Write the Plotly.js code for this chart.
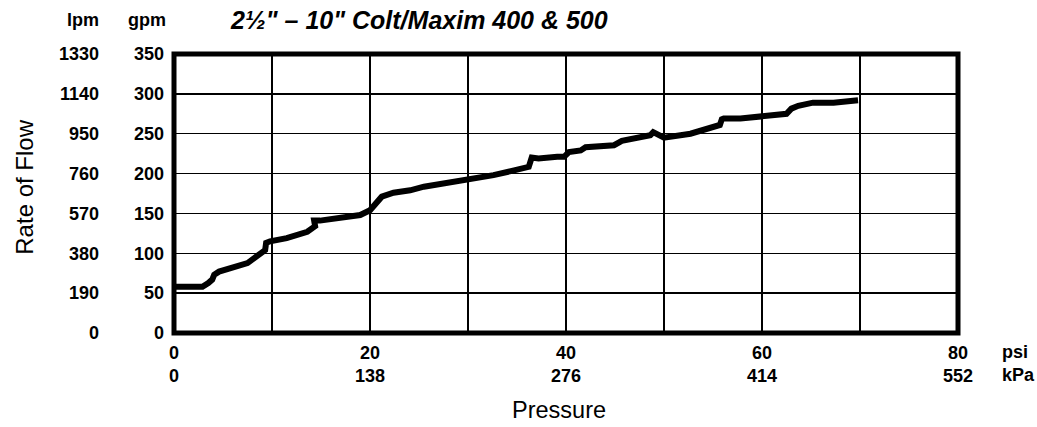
<!DOCTYPE html>
<html>
<head>
<meta charset="utf-8">
<script src="https://cdn.plot.ly/plotly-3.0.1.min.js"></script>
<style>
html,body{margin:0;padding:0;background:#fff;}
#chart{width:1037px;height:427px;}
</style>
</head>
<body>
<div id="chart"></div>
<script>
// Flow curve (pressure in psi, flow in gpm)
const pressurePsi = [0, 0.3, 2.9, 3.5, 3.9, 4.1, 4.6, 7.5, 8.6, 9.3, 9.4, 9.8, 11.5, 13.6, 14.4, 14.3, 14.9, 17.3, 19.0, 20.0, 20.7, 21.2, 22.4, 24.1, 25.5, 27.9, 29.9, 32.6, 34.7, 36.2, 36.5, 37.2, 39.1, 39.8, 40.3, 41.5, 42.0, 44.9, 45.7, 48.6, 48.9, 49.4, 50.0, 52.7, 55.0, 55.7, 55.9, 56.1, 57.8, 59.8, 62.5, 63.0, 63.7, 65.2, 67.3, 69.8];
const flowGpm     = [58, 58, 58, 62.7, 67, 73, 77, 87.7, 97, 104, 113, 115, 119, 127, 134, 141, 141, 145, 148, 154, 163, 171, 176, 179, 183.5, 188, 192, 198, 204, 208.5, 220, 219, 221, 221, 227, 229, 233, 235.6, 241, 248, 252, 248, 245, 250, 258, 261, 268, 269, 269, 271, 275, 281.5, 285, 289, 289, 292];

// Tick labels
const psiTicks = [0, 20, 40, 60, 80];
const kpaTicks = [0, 138, 276, 414, 552];
const gpmTicks = [0, 50, 100, 150, 200, 250, 300, 350];
const lpmTicks = [0, 190, 380, 570, 760, 950, 1140, 1330];

const titleText = "2½\" – 10\" Colt/Maxim 400 & 500";

const boldFont = "'Liberation Sans', Arial, Helvetica, sans-serif";
const plainFont = "'Liberation Sans', Arial, Helvetica, sans-serif";

const xTickText = psiTicks.map((p, i) => '<b>' + p + '</b><br><b>' + kpaTicks[i] + '</b>');

const trace = {
  x: pressurePsi,
  y: flowGpm,
  type: 'scatter',
  mode: 'lines',
  line: {color: '#000', width: 6, shape: 'linear'},
  hoverinfo: 'x+y',
  showlegend: false
};

// carries no marks; only attaches the lpm axis
const lpmAxisHolder = {
  x: [null],
  y: [null],
  yaxis: 'y2',
  type: 'scatter',
  mode: 'lines',
  hoverinfo: 'skip',
  showlegend: false
};

const W = 785, H = 280, L = 173.5, T = 53.5;
const px = v => (v - L) / W;
const py = v => (T + H - v) / H;

const layout = {
  width: 1037,
  height: 427,
  paper_bgcolor: '#fff',
  plot_bgcolor: '#fff',
  margin: {l: 173.5, r: 78.5, t: 53.5, b: 93.5, pad: 0},
  showlegend: false,
  xaxis: {
    range: [0, 80],
    tickvals: psiTicks,
    ticktext: xTickText,
    tickfont: {family: boldFont, size: 18, color: '#000'},
    ticks: '',
    ticklabelstandoff: 7,
    showgrid: true,
    gridcolor: '#000',
    gridwidth: 1.3,
    minor: {dtick: 10, tick0: 0, showgrid: true, gridcolor: '#000', gridwidth: 1.3, ticks: ''},
    zeroline: false,
    showline: false,
    fixedrange: true
  },
  yaxis: {
    range: [0, 350],
    tickvals: gpmTicks,
    ticktext: gpmTicks.map(v => '<b>' + v + '</b>'),
    tickfont: {family: boldFont, size: 18, color: '#000'},
    ticks: '',
    ticklabelstandoff: 9,
    showgrid: true,
    gridcolor: '#000',
    gridwidth: 1.3,
    zeroline: false,
    showline: false,
    fixedrange: true
  },
  yaxis2: {
    overlaying: 'y',
    anchor: 'free',
    position: 0,
    side: 'left',
    range: [0, 350],
    tickvals: gpmTicks,
    ticktext: lpmTicks.map(v => '<b>' + v + '</b>'),
    tickfont: {family: boldFont, size: 18, color: '#000'},
    ticks: '',
    ticklabelstandoff: 75,
    showgrid: false,
    zeroline: false,
    showline: false,
    fixedrange: true
  },
  shapes: [{
    type: 'rect', xref: 'paper', yref: 'paper', x0: 0, x1: 1, y0: 0, y1: 1,
    line: {color: '#000', width: 5}, fillcolor: 'rgba(0,0,0,0)', layer: 'above'
  }],
  annotations: [
    {text: '<b>lpm</b>', xref: 'paper', yref: 'paper', x: px(82), y: py(19), xanchor: 'center', yanchor: 'middle', showarrow: false, font: {family: boldFont, size: 18, color: '#000'}},
    {text: '<b>gpm</b>', xref: 'paper', yref: 'paper', x: px(146), y: py(19), xanchor: 'center', yanchor: 'middle', showarrow: false, font: {family: boldFont, size: 18, color: '#000'}},
    {text: '<b><i>' + titleText + '</i></b>', xref: 'paper', yref: 'paper', x: px(419), y: py(19), xanchor: 'center', yanchor: 'middle', showarrow: false, font: {family: boldFont, size: 25, color: '#000'}},
    {text: '<b>psi</b>', xref: 'paper', yref: 'paper', x: px(1001), y: py(353), xanchor: 'left', yanchor: 'middle', showarrow: false, font: {family: boldFont, size: 18, color: '#000'}},
    {text: '<b>kPa</b>', xref: 'paper', yref: 'paper', x: px(1001), y: py(376), xanchor: 'left', yanchor: 'middle', showarrow: false, font: {family: boldFont, size: 18, color: '#000'}},
    {text: 'Pressure', xref: 'paper', yref: 'paper', x: px(559), y: py(411), xanchor: 'center', yanchor: 'middle', showarrow: false, font: {family: plainFont, size: 23.5, color: '#000'}},
    {text: 'Rate of Flow', xref: 'paper', yref: 'paper', x: px(23), y: py(187), xanchor: 'center', yanchor: 'middle', textangle: -90, showarrow: false, font: {family: plainFont, size: 24, color: '#000'}}
  ]
};

Plotly.newPlot('chart', [trace, lpmAxisHolder], layout, {displayModeBar: false, staticPlot: true});
</script>
</body>
</html>
